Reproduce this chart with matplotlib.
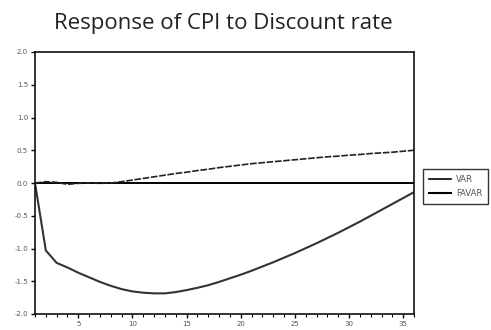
import matplotlib
matplotlib.use("Agg")
import matplotlib.pyplot as plt
from matplotlib.ticker import MultipleLocator

# Impulse response horizon (periods)
periods = list(range(1, 37))

# Response of CPI to a discount-rate shock
var_resp = [0.0, 0.02, 0.01, -0.02, -0.005, 0.0, -0.005, 0.0, 0.02, 0.045,
            0.07, 0.095, 0.12, 0.145, 0.165, 0.19, 0.21, 0.235, 0.255, 0.275,
            0.295, 0.31, 0.325, 0.34, 0.355, 0.37, 0.385, 0.40, 0.41, 0.425,
            0.435, 0.45, 0.46, 0.47, 0.485, 0.50]
favar_resp = [0.0, -1.03, -1.22, -1.29, -1.37, -1.44, -1.51, -1.57, -1.62, -1.655,
              -1.675, -1.685, -1.685, -1.665, -1.635, -1.60, -1.56, -1.51, -1.455, -1.40,
              -1.34, -1.275, -1.21, -1.14, -1.07, -0.995, -0.92, -0.84, -0.76, -0.675,
              -0.59, -0.50, -0.41, -0.32, -0.23, -0.14]

series_labels = ["VAR", "FAVAR"]
title = "Response of CPI to Discount rate"

fig = plt.figure(figsize=(4.91, 3.30), dpi=100)
ax = fig.add_axes([35 / 491, 1 - 314 / 330, (414 - 35) / 491, (314 - 52) / 330])

ax.axhline(0, color="black", lw=1.4, zorder=1)
l1, = ax.plot(periods, var_resp, color="#222222", lw=1.2, ls=(0, (4, 1)), label=series_labels[0])
l2, = ax.plot(periods, favar_resp, color="#333333", lw=1.5, label=series_labels[1])

ax.set_xlim(1, 36)
ax.set_ylim(-2.0, 2.0)
ax.yaxis.set_major_locator(MultipleLocator(0.5))
ax.yaxis.set_major_formatter(matplotlib.ticker.FormatStrFormatter("%.1f"))
ax.xaxis.set_major_locator(MultipleLocator(5))
ax.xaxis.set_minor_locator(MultipleLocator(1))

for s in ax.spines.values():
    s.set_linewidth(1.2)
    s.set_color("#111111")

ax.tick_params(axis="both", which="major", direction="out", length=3, width=1,
               labelsize=5, labelcolor="#555555", pad=2)
ax.tick_params(axis="x", which="minor", direction="out", length=2, width=0.8)

fig.text(223 / 491, 1 - 23 / 330, title, ha="center", va="center",
         fontsize=16, family="Open Sans", color="#222222")

leg = fig.legend(handles=[l1, l2], labels=series_labels, loc="upper left",
                 bbox_to_anchor=(423 / 491, 1 - 169 / 330), frameon=True,
                 fancybox=False, edgecolor="black", fontsize=6,
                 handlelength=2.6, borderpad=0.7, labelspacing=0.6,
                 handletextpad=0.7, borderaxespad=0)
leg.get_frame().set_linewidth(1.0)
for t in leg.get_texts():
    t.set_color("#555555")
for h in leg.legend_handles:
    h.set_linestyle("-")
    h.set_color("black")

fig.savefig("out.png", dpi=100)
